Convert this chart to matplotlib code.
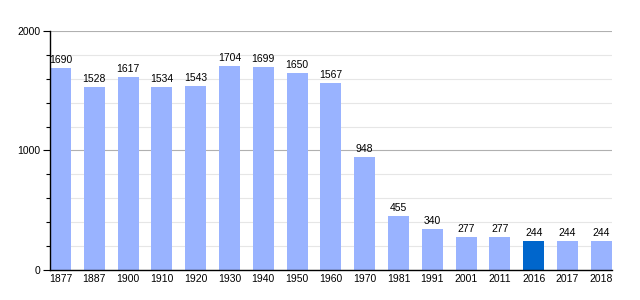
import numpy as np
import matplotlib
matplotlib.use("Agg")
from matplotlib import pyplot as plt
from matplotlib.ticker import MultipleLocator

years = ["1877", "1887", "1900", "1910", "1920", "1930", "1940", "1950", "1960",
         "1970", "1981", "1991", "2001", "2011", "2016", "2017", "2018"]
population = [1690, 1528, 1617, 1534, 1543, 1704, 1699, 1650, 1567,
              948, 455, 340, 277, 277, 244, 244, 244]
highlight = "2016"

plt.rcParams['font.family'] = ['Liberation Sans', 'DejaVu Sans']

fig = plt.figure(figsize=(6.4, 3.0), dpi=100)
ax = fig.add_axes([0.078, 0.1, 0.878, 0.797])

x = np.arange(len(years))
width = 0.62
colors = ["#0066cc" if y == highlight else "#99b3ff" for y in years]
ax.bar(x, population, width=width, color=colors, zorder=2)

for xi, v in zip(x, population):
    ax.text(xi, v + 25, str(v), ha="center", va="bottom", fontsize=7.5, zorder=3)

ax.set_xlim(-width / 2, len(years) - 1 + width / 2)
ax.set_ylim(0, 2000)
ax.set_xticks(x)
ax.set_xticklabels(years, fontsize=7.5)
ax.set_yticks([0, 1000, 2000])
ax.set_yticklabels(["0", "1000", "2000"], fontsize=7.5)
ax.yaxis.set_minor_locator(MultipleLocator(200))

ax.grid(axis="y", which="major", color="#b0b0b0", linewidth=0.8, zorder=0)
ax.grid(axis="y", which="minor", color="#e6e6e6", linewidth=0.8, zorder=0)
ax.set_axisbelow(True)

ax.tick_params(axis="x", length=0, pad=3)
ax.tick_params(axis="y", which="major", length=5, width=0.8, pad=2)
ax.tick_params(axis="y", which="minor", length=3, width=0.8)

for side in ["top", "right"]:
    ax.spines[side].set_visible(False)
ax.spines["left"].set_linewidth(1.0)
ax.spines["bottom"].set_linewidth(1.0)

fig.savefig("out.png", dpi=100)
